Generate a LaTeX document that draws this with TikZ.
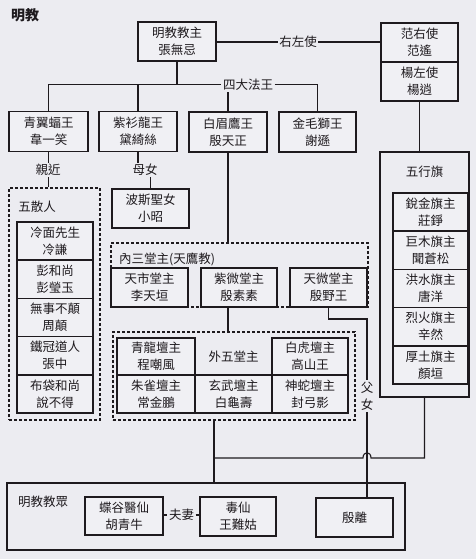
\documentclass[tikz,border=0pt]{standalone}
\usepackage{fontspec}
\newfontfamily\cjk{Noto Sans CJK TC}
\definecolor{bg}{RGB}{236,236,241}
\definecolor{boxbg}{RGB}{240,240,244}
\definecolor{ink}{RGB}{30,26,30}
\tikzset{
  txt/.style={font=\cjk\fontsize{12.5}{17}\selectfont, text=ink, align=center, inner sep=0pt},
  box/.style={txt, draw=ink, line width=1.6pt, fill=boxbg},
  dbox/.style={draw=ink, line width=1.8pt, dash pattern=on 3pt off 2pt, fill=bg, inner sep=0pt},
  obox/.style={draw=ink, line width=1.6pt, fill=bg, inner sep=0pt},
  conn/.style={draw=ink, line width=1.1pt},
  lbl/.style={txt, fill=bg, inner sep=1.5pt},
}
\begin{document}
\begin{tikzpicture}[x=1pt,y=-1pt]
\useasboundingbox (0,0) rectangle (476,559);
\fill[bg] (0,0) rectangle (476,559);
% title
\node[txt, font=\cjk\bfseries\fontsize{14}{16}\selectfont] (title) at (25,15) {明教};
% top boxes
\node[box, minimum width=78, minimum height=39] (zhang) at (177,41.5) {明教教主\\張無忌};
\node[box, minimum width=77, minimum height=39] (fanyao) at (419.5,42.5) {范右使\\范遙};
\node[box, minimum width=77, minimum height=39] (yangxiao) at (419.5,81.5) {楊左使\\楊逍};
\node[box, minimum width=79, minimum height=40] (wei) at (48.5,131.5) {青翼蝠王\\韋一笑};
\node[box, minimum width=78, minimum height=40] (dai) at (138,131.5) {紫衫龍王\\黛綺絲};
\node[box, minimum width=78, minimum height=40] (yintz) at (228,132) {白眉鷹王\\殷天正};
\node[box, minimum width=77, minimum height=40] (xie) at (317.5,132) {金毛獅王\\謝遜};
\node[box, minimum width=77, minimum height=39] (xiaozhao) at (150.5,208.5) {波斯聖女\\小昭};
% 五行旗
\node[obox, minimum width=89, minimum height=245] (wuxing) at (424.5,274.5) {};
\node[txt] (wuxinglbl) at (424.5,172) {五行旗};
\node[box, minimum width=75, minimum height=38.2] (wx1) at (430.5,212.1) {銳金旗主\\莊錚};
\node[box, minimum width=75, minimum height=38.2] (wx2) at (430.5,250.3) {巨木旗主\\聞蒼松};
\node[box, minimum width=75, minimum height=38.2] (wx3) at (430.5,288.5) {洪水旗主\\唐洋};
\node[box, minimum width=75, minimum height=38.2] (wx4) at (430.5,326.7) {烈火旗主\\辛然};
\node[box, minimum width=75, minimum height=38.2] (wx5) at (430.5,364.9) {厚土旗主\\顏垣};
% 五散人
\node[dbox, minimum width=91, minimum height=232] (wusan) at (54.5,304) {};
\node[txt] (wusanlbl) at (37,207) {五散人};
\node[box, minimum width=76, minimum height=38.2] (ws1) at (55,241.1) {冷面先生\\冷謙};
\node[box, minimum width=76, minimum height=38.2] (ws2) at (55,279.3) {彭和尚\\彭瑩玉};
\node[box, minimum width=76, minimum height=38.2] (ws3) at (55,317.5) {無事不顛\\周顛};
\node[box, minimum width=76, minimum height=38.2] (ws4) at (55,355.7) {鐵冠道人\\張中};
\node[box, minimum width=76, minimum height=38.2] (ws5) at (55,393.9) {布袋和尚\\說不得};
% 內三堂主
\node[dbox, minimum width=257, minimum height=64] (tianying) at (239.5,275) {};
\node[txt, anchor=west] (tianyinglbl) at (119,259) {內三堂主(天鷹教)};
\node[box, minimum width=77, minimum height=39] (tianshi) at (149.5,287.5) {天市堂主\\李天垣};
\node[box, minimum width=76, minimum height=39] (ziwei) at (239,287.5) {紫微堂主\\殷素素};
\node[box, minimum width=77, minimum height=39] (tianwei) at (328.5,287.5) {天微堂主\\殷野王};
% 外五堂主
\node[dbox, minimum width=242, minimum height=88] (waiwu) at (234,376) {};
\node[box, minimum width=78, minimum height=37] (qinglong) at (156,356.5) {青龍壇主\\程嘲風};
\node[txt] (waiwulbl) at (233.5,356.5) {外五堂主};
\node[box, minimum width=76, minimum height=37] (baihu) at (310,356.5) {白虎壇主\\高山王};
\node[box, minimum width=78, minimum height=38] (zhuque) at (156,394) {朱雀壇主\\常金鵬};
\node[box, minimum width=77, minimum height=38] (xuanwu) at (233.5,394) {玄武壇主\\白龜壽};
\node[box, minimum width=76, minimum height=38] (shenshe) at (310,394) {神蛇壇主\\封弓影};
% 明教教眾
\node[obox, minimum width=398, minimum height=67] (jiaozhong) at (206,516.5) {};
\node[txt] (jiaozhonglbl) at (43,502) {明教教眾};
\node[box, minimum width=78, minimum height=38] (hu) at (124,516) {蝶谷醫仙\\胡青牛};
\node[box, minimum width=76, minimum height=39] (wangnangu) at (238,516.5) {毒仙\\王難姑};
\node[box, minimum width=77, minimum height=39] (yinli) at (354.5,517.5) {殷離};
% connectors
\node[lbl] (youzuo) at (298,42) {右左使};
\draw[conn] (zhang.east |- youzuo) -- (youzuo.west);
\draw[conn] (youzuo.east) -- (fanyao.west |- youzuo);
\node[lbl] (sida) at (248,84.5) {四大法王};
\draw[conn] (wei.north) |- (sida.west);
\draw[conn] (zhang.south) -- (zhang.south |- sida);
\draw[conn] (dai.north) -- (dai.north |- sida);
\draw[conn] (sida.east) -| (xie.north);
\draw[conn] (yintz.north) -- (yintz.north |- sida.south);
\draw[conn] (yangxiao.south) -- (yangxiao.south |- wuxing.north);
\draw[conn] (wei.south) -- (wei.south |- wusan.north);
\node[lbl] (qinjin) at (48,170) {親近};
\draw[conn] (dai.south) -- (dai.south |- 0,165);
\draw[conn] (xiaozhao.north) -- (xiaozhao.north |- 0,175);
\node[lbl] (munu) at (145,170) {母女};
\draw[conn] (yintz.south) -- (yintz.south |- tianying.north);
\draw[conn] (ziwei.south -| yintz.south) -- (waiwu.north -| yintz.south);
\coordinate (fn) at (367,319);
\draw[conn] (tianwei.south) |- (fn) -- (fn |- yinli.north);
\node[lbl] (funu) at (367,396) {父\\女};
\coordinate (jx) at (214,458);
\draw[conn] (jx |- waiwu.south) -- (jx |- jiaozhong.north);
\draw[conn] (wuxing.south) |- (371,458) .. controls (371,451) and (363,451) .. (363,458) -- (jx);
\node[lbl] (fuqi) at (181.5,515) {夫妻};
\draw[conn] (hu.east |- fuqi) -- (fuqi.west);
\draw[conn] (fuqi.east) -- (wangnangu.west |- fuqi);
\end{tikzpicture}
\end{document}
